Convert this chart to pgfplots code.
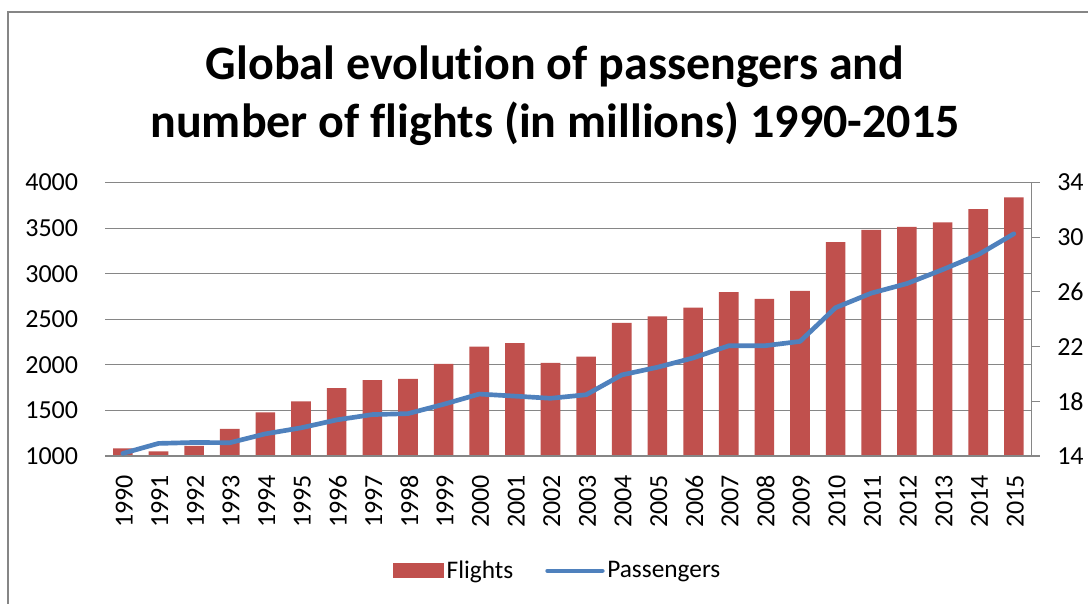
\documentclass[border=0pt]{standalone}
\usepackage{pgfplots}
\pgfplotsset{compat=1.18}
\usepackage{fontspec}
\setmainfont{Carlito}[Ligatures=NoCommon]
\definecolor{barred}{HTML}{C0504D}
\definecolor{lineblue}{HTML}{4F81BD}
\definecolor{gridgray}{HTML}{868686}
\begin{document}
\begin{tikzpicture}
\useasboundingbox (0,0) rectangle (816pt,452.25pt);
\fill[white] (0,0) rectangle (816pt,452.25pt);
\draw[gridgray, line width=1.2pt] (6pt,-20pt) -- (6pt,443.25pt) -- (840pt,443.25pt);
\node[anchor=base, font=\fontsize{36}{43}\selectfont\bfseries] at (416.25pt,392.25pt) {Global evolution of passengers and};
\node[anchor=base, font=\fontsize{36}{43}\selectfont\bfseries] at (416.25pt,348.75pt) {number of flights (in millions) 1990-2015};
\begin{axis}[
  at={(78.75pt,110.25pt)}, anchor=south west,
  width=695pt, height=205.1pt, scale only axis,
  xmin=-0.5, xmax=25.5, ymin=1000, ymax=4000,
  ytick={1000,1500,...,4000},
  xtick={0,...,25},
  xticklabels={1990,1991,1992,1993,1994,1995,1996,1997,1998,1999,2000,2001,2002,2003,2004,2005,2006,2007,2008,2009,2010,2011,2012,2013,2014,2015},
  xticklabel style={anchor=east, rotate=90, inner sep=0pt, xshift=-14pt, yshift=-1pt},
  yticklabel style={anchor=east, inner sep=0pt, xshift=-20pt},
  major tick length=0pt,
  ymajorgrids, grid style={gridgray, line width=0.8pt},
  axis line style={draw=none},
  tick label style={font=\fontsize{19.5}{21}\selectfont},
  /pgf/number format/assume math mode=true,
  /pgf/number format/.cd, 1000 sep={}, /pgfplots/.cd,
  clip=true,
]
\addplot[ybar, bar width=0.55, fill=barred, draw=none, bar shift=0pt] coordinates {
(0,1084) (1,1051) (2,1110) (3,1298) (4,1479) (5,1599) (6,1745) (7,1832) (8,1846) (9,2010)
(10,2199) (11,2238) (12,2021) (13,2090) (14,2460) (15,2533) (16,2627) (17,2798) (18,2725) (19,2812)
(20,3346) (21,3481) (22,3513) (23,3564) (24,3709) (25,3837)};
\draw[gridgray, line width=0.8pt] (rel axis cs:0,0) -- (rel axis cs:1,0);
\end{axis}
\begin{axis}[
  at={(78.75pt,110.25pt)}, anchor=south west,
  width=695pt, height=205.1pt, scale only axis,
  xmin=-0.5, xmax=25.5, ymin=14, ymax=34,
  ytick={14,18,...,34},
  axis x line=none,
  axis y line*=right,
  y axis line style={gridgray, line width=0.8pt, -},
  ytick style={gridgray, line width=0.8pt},
  tick align=outside, major tick length=6pt,
  yticklabel style={anchor=west, inner sep=0pt, xshift=13pt},
  tick label style={font=\fontsize{19.5}{21}\selectfont},
  /pgf/number format/assume math mode=true,
  legend style={at={(0.489,-0.42)}, anchor=center, draw=none, fill=none,
    legend columns=2, font=\fontsize{19}{21}\selectfont,
    /tikz/every even column/.append style={column sep=22pt},
    inner sep=0pt},
  legend cell align=left,
]
\addlegendimage{area legend, fill=barred, draw=none,
  /pgfplots/legend image code/.code={\fill[barred] (0pt,-5.6pt) rectangle (38pt,5.6pt);}}
\addlegendentry{Flights}
\addplot[lineblue, line width=3.5pt, line join=round, line cap=round,
  /pgfplots/legend image code/.code={\draw[lineblue, line width=3.5pt, line cap=round] (0pt,0pt) -- (41pt,0pt);}] coordinates {
(0,14.19) (1,14.92) (2,14.99) (3,14.97) (4,15.62) (5,16.06) (6,16.64) (7,17.03) (8,17.10) (9,17.78)
(10,18.53) (11,18.38) (12,18.22) (13,18.48) (14,19.93) (15,20.49) (16,21.17) (17,22.06) (18,22.06) (19,22.38)
(20,24.85) (21,25.91) (22,26.61) (23,27.63) (24,28.72) (25,30.25)};
\addlegendentry{Passengers}
\end{axis}
\end{tikzpicture}
\end{document}
